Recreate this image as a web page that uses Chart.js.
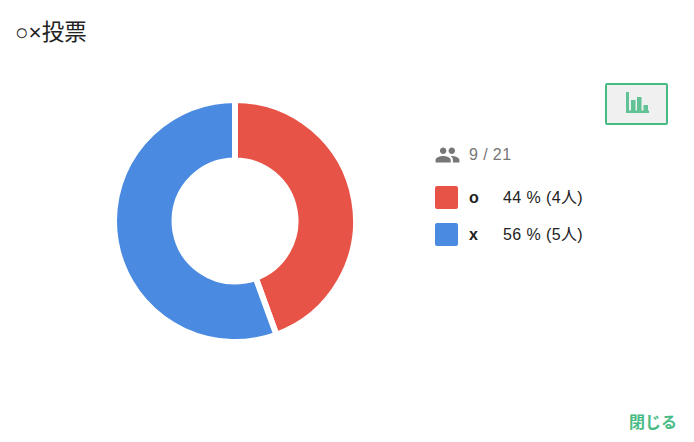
<!DOCTYPE html>
<html lang="ja">
<head>
<meta charset="utf-8">
<title>○×投票</title>
<script src="https://cdn.jsdelivr.net/npm/chart.js@4"></script>
<style>
  html, body { margin: 0; padding: 0; background: #fff; }
  body { width: 694px; height: 442px; position: relative; overflow: hidden;
         font-family: "Liberation Sans", "Noto Sans CJK JP", sans-serif; }
  #title { position: absolute; left: 15px; top: 18px; font-size: 22.5px; line-height: 30px; color: #222; }
  #chartBox { position: absolute; left: 111px; top: 97px; width: 248px; height: 248px; }
  #voters { position: absolute; left: 435px; top: 142px; height: 26px; color: #777; font-size: 16px; letter-spacing: 0.4px; }
  #voters svg { position: absolute; left: -1px; top: 0; }
  #voters span { position: absolute; left: 34px; top: 3px; line-height: 20px; white-space: nowrap; }
  .row { position: absolute; left: 435px; height: 23px; font-size: 16px; color: #222; white-space: nowrap; }
  .row i { position: absolute; left: 0; top: 0; width: 23px; height: 23px; border-radius: 2px; }
  .row b { position: absolute; left: 34px; top: 2px; line-height: 20px; }
  .row span { position: absolute; left: 68px; top: 2px; line-height: 20px; letter-spacing: 0.4px; }
  #toggle { position: absolute; left: 605px; top: 83px; width: 59px; height: 38px; border: 2px solid #48bb85;
            border-radius: 2px; background: #f0f0f0; }
  #toggle svg { position: absolute; left: 19px; top: 7px; }
  #close { position: absolute; left: 629px; top: 413px; font-size: 16px; line-height: 20px; font-weight: bold; color: #48bb85; }
</style>
</head>
<body>
<div id="title">○×投票</div>
<div id="chartBox"><canvas id="myChart" width="248" height="248"></canvas></div>
<div id="voters">
  <svg width="27" height="26" viewBox="0 0 24 24"><path fill="#777" d="M16 11c1.66 0 2.99-1.34 2.99-3S17.66 5 16 5c-1.66 0-3 1.34-3 3s1.34 3 3 3zm-8 0c1.66 0 2.99-1.34 2.99-3S9.66 5 8 5C6.34 5 5 6.34 5 8s1.34 3 3 3zm0 2c-2.33 0-7 1.17-7 3.5V19h14v-2.5c0-2.33-4.67-3.5-7-3.5zm8 0c-.29 0-.62.02-.97.05 1.16.84 1.97 1.97 1.97 3.45V19h6v-2.5c0-2.33-4.67-3.5-7-3.5z"/></svg>
  <span id="voterText"></span>
</div>
<div id="legend"></div>
<div id="toggle">
  <svg width="24" height="22" viewBox="0 0 24 22"><path fill="#48bb85" fill-opacity="0.85" d="M0 0h3v21h-3zM3 18.500h20v2.500H3zM5 8h4.500v11H5zM11 5h4.500v14H11zM17.500 13h4.500v6h-4.500z"/></svg>
</div>
<div id="close">閉じる</div>

<script>
// Donnees du sondage
const labels = ["o", "x"];
const votes = [4, 5];
const percents = [44, 56];
const colors = ["#e85347", "#4a8ae0"];
const voted = 9;
const total = 21;

document.getElementById("voterText").textContent = voted + " / " + total;

// Legende a droite
const legend = document.getElementById("legend");
labels.forEach((label, i) => {
  const row = document.createElement("div");
  row.className = "row";
  row.style.top = 186 + i * 37 + "px";
  row.innerHTML = '<i style="background:' + colors[i] + '"></i><b>' + label + "</b><span>" +
    percents[i] + " % (" + votes[i] + "人)</span>";
  legend.appendChild(row);
});

const context = document.getElementById("myChart").getContext("2d");
const chart = new Chart(context, {
  type: "doughnut",
  data: {
    labels: labels,
    datasets: [
      {
        data: votes,
        backgroundColor: colors,
        borderColor: "#fff",
        borderWidth: 6,
      },
    ],
  },
  options: {
    responsive: false,
    animation: false,
    cutout: "50%",
    layout: { padding: 0 },
    plugins: {
      legend: { display: false },
      tooltip: { enabled: false },
    },
  },
});
</script>
</body>
</html>
